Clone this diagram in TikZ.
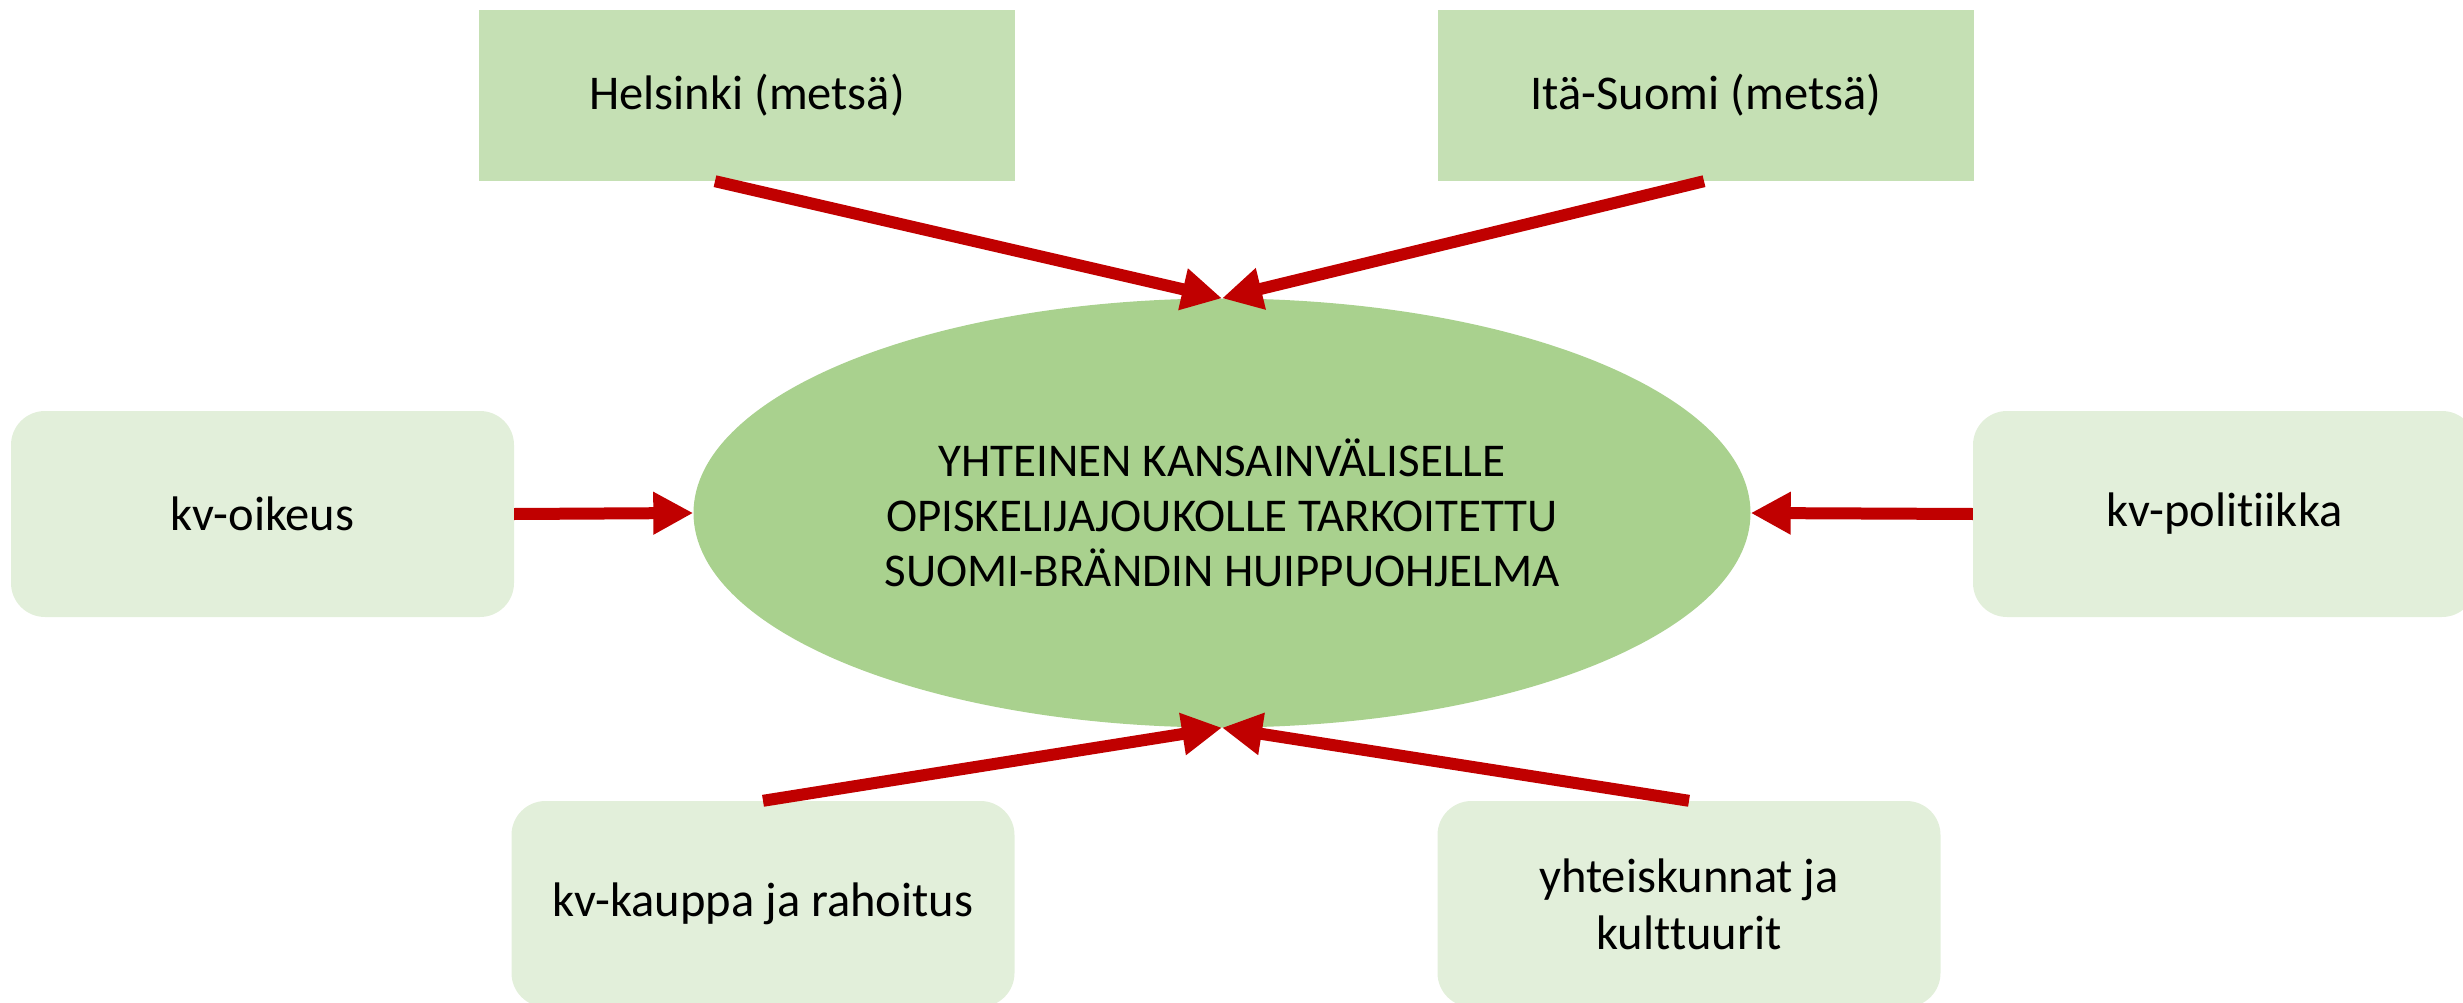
\documentclass[tikz,border=0pt]{standalone}
\usepackage{fontspec}
\setmainfont{Carlito}[Ligatures=NoCommon]
\usetikzlibrary{shapes.geometric,arrows.meta}
\definecolor{topgreen}{HTML}{C5E0B4}
\definecolor{sidegreen}{HTML}{E2EFDA}
\definecolor{ellgreen}{HTML}{A9D18E}
\definecolor{arrowred}{HTML}{C00000}
\begin{document}
\begin{tikzpicture}[x=1pt,y=-1pt,
  txt/.style={font=\fontsize{48.5}{57}\selectfont, text=black},
  topbox/.style={txt, rectangle, fill=topgreen, minimum width=536pt, minimum height=171pt, inner sep=0pt},
  sidebox/.style={txt, rectangle, rounded corners=34pt, fill=sidegreen, minimum width=503pt, minimum height=206pt, inner sep=0pt, align=center},
  corebox/.style={font=\fontsize{47}{55}\selectfont, text=black, ellipse, fill=ellgreen, minimum width=1057pt, minimum height=429pt, inner sep=0pt, align=center},
  link/.style={draw=arrowred, line width=12pt, -{Triangle[length=40pt,width=40pt]}}
]
\useasboundingbox (0,0) rectangle (2463,1003);

\node[corebox] (core) at (1222,513) {YHTEINEN KANSAINVÄLISELLE\\OPISKELIJAJOUKOLLE TARKOITETTU\\SUOMI-BRÄNDIN HUIPPUOHJELMA};

\node[topbox] (hel) at (747,95.5) {Helsinki (metsä)};
\node[topbox] (ita) at (1706,95.5) {Itä-Suomi (metsä)};

\node[sidebox] (oik) at (262.5,514) {kv-oikeus};
\node[sidebox] (pol) at (2224.5,514) {kv-politiikka};

\node[sidebox] (kau) at (763,904) {kv-kauppa ja rahoitus};
\node[sidebox] (yht) at (1689,904) {yhteiskunnat ja\\kulttuurit};

\draw[link] ([xshift=-32pt]hel.south) -- (core.north);
\draw[link] ([xshift=-2pt]ita.south) -- (core.north);
\draw[link] (oik.east) -- (core.west);
\draw[link] (pol.west) -- (core.east);
\draw[link] (kau.north) -- (core.south);
\draw[link] (yht.north) -- (core.south);
\end{tikzpicture}
\end{document}
